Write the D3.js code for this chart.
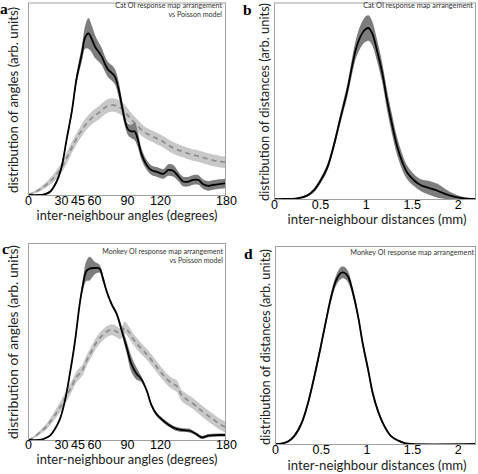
<!DOCTYPE html>
<html><head><meta charset="utf-8">
<script src="https://cdn.jsdelivr.net/npm/d3@7/dist/d3.min.js"></script>
<style>body{margin:0;background:#fff}svg{display:block}</style>
</head><body>
<svg id="chart" width="478" height="474"></svg>
<script>
// ---------- DATA ----------
const angleTicks = [0, 30, 45, 60, 90, 120, 180];
const distTicks = [0, 0.5, 1, 1.5, 2];

// Panel a: cat angles (black) with error half-width
const catAngleX    = [0,10,14,20,26,30.6,35,40,44,49,52,55,58,61,64,67,70,73,76,79,82,85,88,91,94,97,100,103,108,112,117,123,127.6,132,137,141,146,150,155,159,164,168,174,180];
const catAngleMean = [0,0,0.002,0.017,0.07,0.147,0.285,0.44,0.6,0.735,0.82,0.84,0.81,0.77,0.745,0.72,0.68,0.65,0.635,0.615,0.56,0.475,0.39,0.34,0.33,0.33,0.285,0.215,0.155,0.13,0.12,0.11,0.13,0.126,0.095,0.07,0.07,0.078,0.078,0.057,0.047,0.052,0.057,0.06];
const catAngleErr  = [0.003,0.003,0.004,0.006,0.01,0.012,0.015,0.02,0.025,0.04,0.06,0.08,0.07,0.06,0.05,0.045,0.04,0.04,0.04,0.04,0.04,0.035,0.03,0.03,0.035,0.045,0.04,0.03,0.025,0.025,0.025,0.025,0.03,0.03,0.025,0.025,0.025,0.025,0.025,0.025,0.025,0.025,0.025,0.025];

// Panel a: Poisson model (grey dashed)
const catPoisX    = [0,5,11,17,23,29,35,41,47,53,59,65,71.5,77.6,82,87,93,99,105,111,117,123,129,135,141,147,156,165,174.5,180];
const catPoisMean = [0,0.012,0.03,0.055,0.087,0.13,0.19,0.26,0.32,0.37,0.405,0.43,0.46,0.467,0.46,0.44,0.398,0.363,0.33,0.31,0.294,0.277,0.254,0.237,0.225,0.213,0.2,0.185,0.173,0.17];
const catPoisErr  = [0.003,0.006,0.01,0.015,0.02,0.025,0.03,0.03,0.03,0.032,0.034,0.035,0.035,0.035,0.035,0.035,0.033,0.032,0.03,0.03,0.03,0.03,0.03,0.03,0.03,0.03,0.03,0.03,0.03,0.03];

// Panel b: cat distances
const catDistX    = [0,0.1,0.25,0.36,0.43,0.5,0.58,0.65,0.72,0.8,0.85,0.9,0.96,1.0,1.03,1.07,1.12,1.18,1.23,1.29,1.34,1.4,1.45,1.53,1.6,1.69,1.78,1.87,1.96,2.07,2.2];
const catDistMean = [0,0,0.003,0.017,0.042,0.088,0.16,0.27,0.405,0.556,0.675,0.776,0.843,0.865,0.87,0.843,0.76,0.64,0.506,0.37,0.27,0.185,0.135,0.093,0.07,0.056,0.042,0.025,0.012,0.003,0];
const catDistErr  = [0.001,0.001,0.003,0.006,0.01,0.014,0.018,0.022,0.026,0.032,0.04,0.05,0.06,0.065,0.065,0.062,0.055,0.05,0.05,0.05,0.045,0.04,0.035,0.03,0.03,0.035,0.035,0.025,0.015,0.006,0.002];

// Panel c: monkey angles
const monAngleX    = [0,10,14,20,24.5,29,33.6,38,42.7,47,50,53,56,61,65,68,71.5,76,80.6,85,89.7,94,99,103,108,112,117,123,129,135,141,147,153,158,164,171.5,180];
const monAngleMean = [0,0,0.005,0.022,0.056,0.106,0.2,0.334,0.5,0.69,0.79,0.857,0.87,0.873,0.87,0.823,0.755,0.69,0.64,0.56,0.47,0.385,0.334,0.31,0.25,0.18,0.13,0.098,0.073,0.056,0.05,0.047,0.03,0.013,0.022,0.025,0.025];
const monAngleErr  = [0.002,0.002,0.003,0.004,0.005,0.006,0.008,0.008,0.01,0.015,0.03,0.05,0.06,0.03,0.02,0.02,0.012,0.01,0.01,0.02,0.03,0.04,0.03,0.015,0.01,0.01,0.01,0.01,0.01,0.01,0.01,0.01,0.008,0.008,0.008,0.008,0.008];

const monPoisX    = [0,5,11,17,23,29,35,40,44,49,53,58,62,67,71.5,76,80.6,84,88,91,96,102,108,114,120,126,132,135,140,144,150,156,162,168,174.5,180];
const monPoisMean = [0,0.013,0.04,0.07,0.115,0.165,0.224,0.275,0.32,0.35,0.4,0.452,0.494,0.528,0.55,0.56,0.55,0.54,0.57,0.553,0.51,0.47,0.435,0.393,0.35,0.31,0.283,0.275,0.224,0.207,0.185,0.157,0.13,0.106,0.08,0.064];
const monPoisErr  = [0.003,0.006,0.01,0.015,0.02,0.025,0.028,0.028,0.028,0.028,0.028,0.028,0.028,0.028,0.028,0.028,0.028,0.028,0.03,0.03,0.028,0.028,0.028,0.028,0.028,0.028,0.028,0.03,0.028,0.028,0.028,0.028,0.028,0.028,0.028,0.028];

// Panel d: monkey distances
const monDistX    = [0,0.066,0.14,0.21,0.29,0.36,0.43,0.5,0.56,0.615,0.67,0.725,0.76,0.8,0.85,0.91,0.96,1.02,1.07,1.13,1.2,1.27,1.35,1.42,1.5,2.2];
const monDistMean = [0,0.002,0.012,0.04,0.104,0.205,0.34,0.49,0.626,0.744,0.828,0.865,0.865,0.845,0.77,0.643,0.508,0.374,0.256,0.163,0.088,0.04,0.017,0.005,0,0];
const monDistErr  = [0.001,0.002,0.004,0.008,0.012,0.016,0.02,0.02,0.02,0.022,0.026,0.03,0.03,0.028,0.022,0.02,0.02,0.02,0.018,0.014,0.01,0.006,0.004,0.002,0.001,0.001];

const letters = ["a","b","c","d"];
const angleXLabel = "inter-neighbour angles (degrees)";
const distXLabel = "inter-neighbour distances (mm)";
const angleYLabel = "distribution of angles (arb. units)";
const distYLabel = "distribution of distances (arb. units)";
const catNote = ["Cat OI response map arrangement", "vs Poisson model"];
const catDistNote = ["Cat OI response map arrangement"];
const monNote = ["Monkey OI response map arrangement", "vs Poisson model"];
const monDistNote = ["Monkey OI response map arrangement"];

// ---------- DRAW ----------
const svg = d3.select("#chart");
const LABEL_FONT = "Lato, 'Open Sans', sans-serif";
const TICK_FONT = "'Liberation Sans', Arial, sans-serif";

function fitText(sel, target) {
  const node = sel.node();
  const fs = parseFloat(sel.attr("font-size"));
  const len = node.getComputedTextLength();
  let size = fs;
  if (len > 0) size = fs * target / len;
  sel.attr("font-size", size.toFixed(2));
  return size;
}

function zipS(xs, ms, es) { return xs.map((x, i) => ({x, m: ms[i], e: es[i]})); }

function panel(cfg) {
  const g = svg.append("g");
  const x = d3.scaleLinear().domain(cfg.xDomain).range([cfg.left, cfg.right]);
  const y = d3.scaleLinear().domain([0, 1]).range([cfg.bottom, cfg.top]);
  const clipId = "clip" + cfg.letter;
  svg.append("clipPath").attr("id", clipId).append("rect")
    .attr("x", cfg.left).attr("y", cfg.top).attr("width", cfg.right - cfg.left).attr("height", cfg.bottom - cfg.top);
  const plot = g.append("g").attr("clip-path", `url(#${clipId})`);
  const curve = d3.curveCatmullRom.alpha(0.5);
  cfg.series.forEach(s => {
    const pts = zipS(s.x, s.m, s.e);
    const area = d3.area().x(d => x(d.x)).y0(d => y(Math.max(0, d.m - d.e))).y1(d => y(d.m + d.e)).curve(curve);
    const line = d3.line().x(d => x(d.x)).y(d => y(d.m)).curve(curve);
    plot.append("path").attr("d", area(pts)).attr("fill", s.band).attr("stroke", "none");
    const p = plot.append("path").attr("d", line(pts)).attr("fill", "none")
      .attr("stroke", s.color).attr("stroke-width", s.width);
    if (s.dash) p.attr("stroke-dasharray", s.dash);
  });
  // frame
  g.append("rect").attr("x", cfg.left + 0.5).attr("y", cfg.top + 0.5)
    .attr("width", cfg.right - cfg.left - 1).attr("height", cfg.bottom - cfg.top)
    .attr("fill", "none").attr("stroke", "#a0a0a0").attr("stroke-width", 1);
  // x axis tick labels via d3 axis
  const axis = d3.axisBottom(x).tickValues(cfg.ticks).tickSize(0).tickPadding(4)
    .tickFormat(d => d3.format("~g")(d));
  const ax = g.append("g").attr("transform", `translate(0,${cfg.bottom})`).call(axis);
  ax.select(".domain").remove();
  ax.selectAll("text").attr("font-family", TICK_FONT).attr("font-size", 12.5).attr("fill", "#000")
    .attr("dy", null).attr("y", cfg.tickBase - cfg.bottom);
  // x label
  const xl = g.append("text").text(cfg.xLabel).attr("x", cfg.xLabelX).attr("y", cfg.xLabelY)
    .attr("text-anchor", "middle").attr("font-family", LABEL_FONT).attr("font-size", 14).attr("fill", "#222");
  fitText(xl, cfg.xLabelW);
  // y label
  const yl = g.append("text").text(cfg.yLabel)
    .attr("transform", `translate(${cfg.yLabelX},${cfg.yLabelY}) rotate(-90)`)
    .attr("text-anchor", "middle").attr("font-family", LABEL_FONT).attr("font-size", 14).attr("fill", "#222");
  fitText(yl, cfg.yLabelW);
  // letter
  g.append("text").text(cfg.letter).attr("x", cfg.letterX).attr("y", cfg.letterY)
    .attr("font-family", "'Liberation Serif', 'DejaVu Serif', serif").attr("font-weight", "bold")
    .attr("font-size", 15.5).attr("fill", "#000");
  // notes
  let noteSize = 7.5;
  cfg.note.forEach((t, i) => {
    const n = g.append("text").text(t).attr("x", cfg.noteX).attr("y", cfg.noteY + i * 9)
      .attr("text-anchor", "end").attr("font-family", LABEL_FONT).attr("font-size", 7.5).attr("fill", "#333");
    if (i === 0) noteSize = fitText(n, cfg.noteW);
    else n.attr("font-size", noteSize.toFixed(2));
  });
}

const dark = {band: "#7d7d7d", color: "#000", width: 1.8};
const light = {band: "#c8c8c8", color: "#8e8e8e", width: 1.8, dash: "5,4"};

panel({letter: letters[0], left: 28, right: 226, top: 2.5, bottom: 195, xDomain: [0, 180], ticks: angleTicks,
  tickBase: 205, xLabel: angleXLabel, xLabelX: 127, xLabelY: 220, xLabelW: 181,
  yLabel: angleYLabel, yLabelX: 18, yLabelY: 100, yLabelW: 186,
  letterX: 0, letterY: 14, note: catNote, noteX: 222, noteY: 8, noteW: 107,
  series: [Object.assign({x: catPoisX, m: catPoisMean, e: catPoisErr}, light),
           Object.assign({x: catAngleX, m: catAngleMean, e: catAngleErr}, dark)]});

panel({letter: letters[1], left: 274, right: 476, top: 2.5, bottom: 199, xDomain: [0, 2.2], ticks: distTicks,
  tickBase: 209, xLabel: distXLabel, xLabelX: 377, xLabelY: 224, xLabelW: 179,
  yLabel: distYLabel, yLabelX: 269, yLabelY: 102, yLabelW: 198,
  letterX: 243, letterY: 15, note: catDistNote, noteX: 473, noteY: 8, noteW: 110,
  series: [Object.assign({x: catDistX, m: catDistMean, e: catDistErr}, dark)]});

panel({letter: letters[2], left: 28, right: 226, top: 243, bottom: 440, xDomain: [0, 180], ticks: angleTicks,
  tickBase: 449, xLabel: angleXLabel, xLabelX: 127, xLabelY: 464, xLabelW: 181,
  yLabel: angleYLabel, yLabelX: 18, yLabelY: 342, yLabelW: 194,
  letterX: 2, letterY: 254, note: monNote, noteX: 223, noteY: 254, noteW: 121,
  series: [Object.assign({x: monPoisX, m: monPoisMean, e: monPoisErr}, light),
           Object.assign({x: monAngleX, m: monAngleMean, e: monAngleErr}, dark)]});

panel({letter: letters[3], left: 275, right: 476, top: 246, bottom: 444, xDomain: [0, 2.2], ticks: distTicks,
  tickBase: 454, xLabel: distXLabel, xLabelX: 377, xLabelY: 470, xLabelW: 179,
  yLabel: distYLabel, yLabelX: 270, yLabelY: 347, yLabelW: 196,
  letterX: 244, letterY: 259, note: monDistNote, noteX: 474, noteY: 255, noteW: 124,
  series: [Object.assign({x: monDistX, m: monDistMean, e: monDistErr}, dark)]});
</script>
</body></html>
